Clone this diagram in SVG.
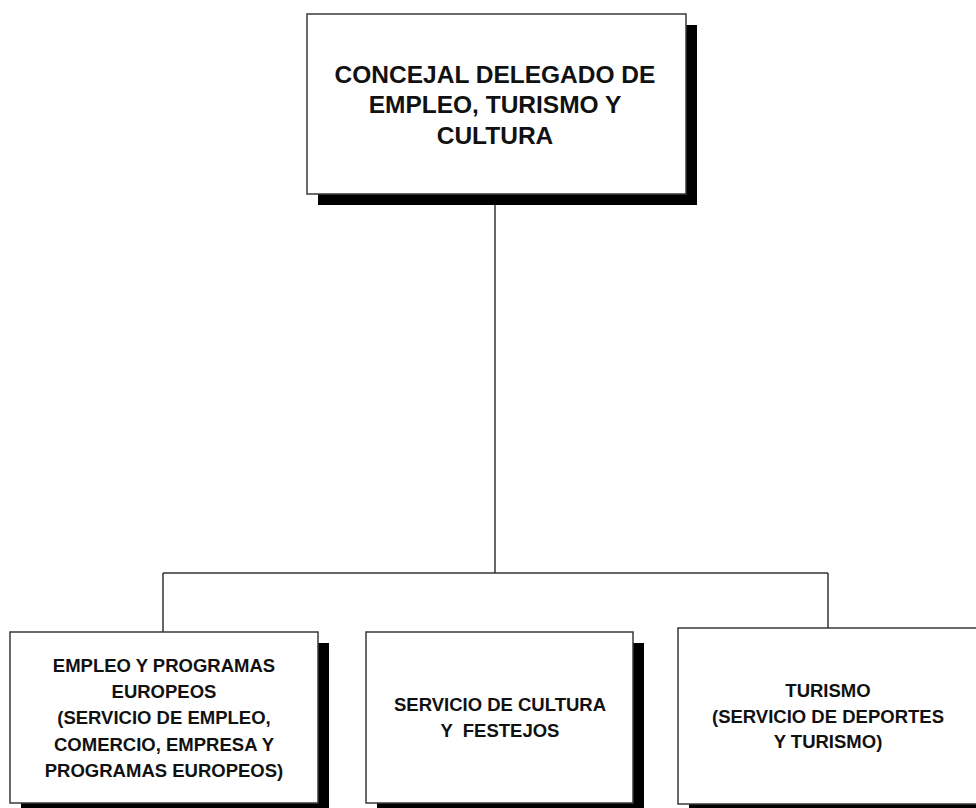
<svg xmlns="http://www.w3.org/2000/svg" width="976" height="808" viewBox="0 0 976 808">
<style>
.box{fill:#fff;stroke:#3a3a3a;stroke-width:1.5}
.sh{fill:#000}
.ln{fill:none;stroke:#333;stroke-width:1.5}
.t1{font-family:"Liberation Sans",Arial,sans-serif;font-weight:bold;font-size:24.5px;fill:#111;text-anchor:middle}
.t2{font-family:"Liberation Sans",Arial,sans-serif;font-weight:bold;font-size:18.5px;fill:#111;text-anchor:middle}
</style>
<rect width="976" height="808" fill="#fff"/>
<g id="connectors">
<path class="ln" d="M495 194 V573"/>
<path class="ln" d="M163 573 H828"/>
<path class="ln" d="M163 573 V632"/>
<path class="ln" d="M828 573 V628"/>
</g>
<g id="node-top">
<rect class="sh" x="318" y="25" width="379" height="180"/>
<rect class="box" x="307" y="14" width="379" height="180"/>
<text class="t1" x="495" y="83">CONCEJAL DELEGADO DE</text>
<text class="t1" x="495" y="113">EMPLEO, TURISMO Y</text>
<text class="t1" x="495" y="144">CULTURA</text>
</g>
<g id="node-empleo">
<rect class="sh" x="21" y="643" width="308" height="171"/>
<rect class="box" x="10" y="632" width="308" height="171"/>
<text class="t2" x="164" y="672">EMPLEO Y PROGRAMAS</text>
<text class="t2" x="164" y="698">EUROPEOS</text>
<text class="t2" x="164" y="724">(SERVICIO DE EMPLEO,</text>
<text class="t2" x="164" y="751">COMERCIO, EMPRESA Y</text>
<text class="t2" x="164" y="777">PROGRAMAS EUROPEOS)</text>
</g>
<g id="node-cultura">
<rect class="sh" x="377" y="643" width="267" height="171"/>
<rect class="box" x="366" y="632" width="267" height="171"/>
<text class="t2" x="500" y="711">SERVICIO DE CULTURA</text>
<text class="t2" x="500" y="737" xml:space="preserve">Y  FESTEJOS</text>
</g>
<g id="node-turismo">
<rect class="sh" x="689" y="639" width="310" height="177"/>
<rect class="box" x="678" y="628" width="310" height="176"/>
<text class="t2" x="828" y="697">TURISMO</text>
<text class="t2" x="828" y="723">(SERVICIO DE DEPORTES</text>
<text class="t2" x="828" y="748">Y TURISMO)</text>
</g>
</svg>
